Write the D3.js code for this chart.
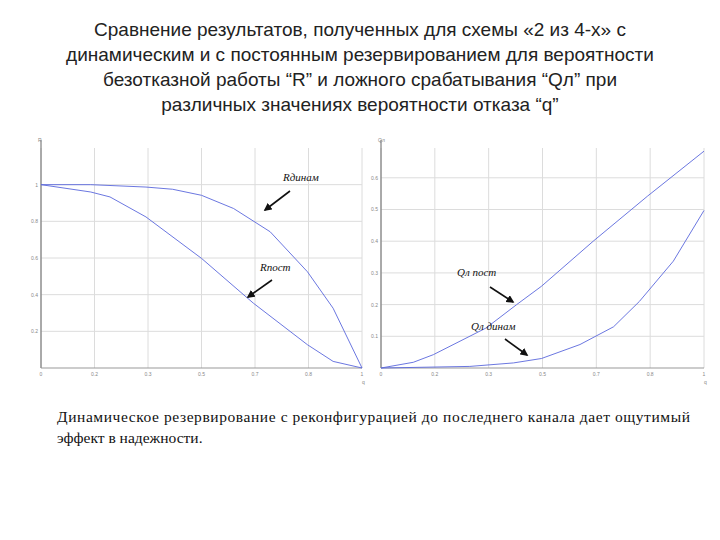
<!DOCTYPE html>
<html><head><meta charset="utf-8">
<script src="https://cdn.jsdelivr.net/npm/d3@7"></script>
<style>body{margin:0;background:#fff}</style>
</head><body>
<svg width="720" height="540"></svg>
<script>
// values
var rPost = [[0,1],[0.155,0.96],[0.215,0.933],[0.327,0.824],[0.5,0.598],[0.662,0.353],[0.83,0.127],[0.91,0.036],[1,0]];
var rDyn = [[0,1],[0.155,1],[0.327,0.987],[0.41,0.975],[0.5,0.942],[0.6,0.87],[0.714,0.743],[0.83,0.525],[0.91,0.326],[1,0]];
var qlPost = [[0,0],[0.1,0.018],[0.162,0.042],[0.325,0.126],[0.42,0.2],[0.497,0.258],[0.657,0.4],[0.825,0.542],[1,0.684]];
var qlDyn = [[0,0],[0.275,0.005],[0.41,0.016],[0.497,0.03],[0.616,0.074],[0.72,0.13],[0.8,0.21],[0.905,0.337],[1,0.497]];
var xTicks = [0, 1/6, 2/6, 3/6, 4/6, 5/6, 1];
var xTickLabels = ['0', '0.2', '0.3', '0.5', '0.7', '0.8', '1'];
var rTicks = [0.2, 0.4, 0.6, 0.8, 1];
var qTicks = [0.1, 0.2, 0.3, 0.4, 0.5, 0.6];
var titleLines = ['Сравнение результатов, полученных для схемы «2 из 4-х» с',
  'динамическим и с постоянным резервированием для вероятности',
  'безотказной работы “R” и ложного срабатывания “Qл” при',
  'различных значениях вероятности отказа “q”'];
var noteLines = ['Динамическое резервирование с реконфигурацией до последнего канала дает ощутимый',
  'эффект в надежности.'];

var svg = d3.select('svg');
var lineColor = '#5a68dc';
var gridColor = '#dcdcdc';

svg.selectAll('.title').data(titleLines).enter().append('text')
  .attr('x', 360).attr('y', function(d, i){ return 36 + i*25; })
  .attr('text-anchor', 'middle')
  .style('font-family', 'Arial, "Liberation Sans", sans-serif')
  .style('font-size', '19px').style('fill', '#222')
  .text(function(d){ return d; });

function panel(x0, x1, yMax, yTicks, series, yName, notes){
  var x = d3.scaleLinear().domain([0, 1]).range([x0, x1]);
  var y = d3.scaleLinear().domain([0, yMax]).range([368, 148]);
  var g = svg.append('g');
  g.selectAll('.vg').data(xTicks).enter().append('line')
    .attr('x1', function(d){ return x(d); }).attr('x2', function(d){ return x(d); })
    .attr('y1', 148).attr('y2', 368).attr('stroke', gridColor);
  g.selectAll('.hg').data(yTicks).enter().append('line')
    .attr('x1', x0).attr('x2', x1)
    .attr('y1', function(d){ return y(d); }).attr('y2', function(d){ return y(d); })
    .attr('stroke', gridColor);
  g.append('line').attr('x1', x0).attr('x2', x0).attr('y1', 140).attr('y2', 368).attr('stroke', '#666');
  g.append('line').attr('x1', x0).attr('x2', x1).attr('y1', 368).attr('y2', 368).attr('stroke', '#999');
  g.selectAll('.xl').data(xTicks).enter().append('text')
    .attr('x', function(d){ return x(d); }).attr('y', 376)
    .attr('text-anchor', 'middle').style('font-size', '5px').style('fill', '#888')
    .style('font-family', 'Arial')
    .text(function(d, i){ return xTickLabels[i]; });
  g.selectAll('.yl').data(yTicks).enter().append('text')
    .attr('x', x0 - 3).attr('y', function(d){ return y(d) + 2; })
    .attr('text-anchor', 'end').style('font-size', '5px').style('fill', '#888')
    .style('font-family', 'Arial')
    .text(function(d){ return d3.format('.1~f')(d); });
  g.append('text').attr('x', x0 - 3).attr('y', 142).style('font-size', '5px')
    .style('fill', '#888').style('font-family', 'Arial').text(yName);
  g.append('text').attr('x', x1).attr('y', 384).style('font-size', '5px')
    .style('fill', '#888').style('font-family', 'Arial').text('q');
  var line = d3.line().x(function(d){ return x(d[0]); }).y(function(d){ return y(d[1]); });
  series.forEach(function(s){
    g.append('path').attr('d', line(s)).attr('fill', 'none')
      .attr('stroke', lineColor).attr('stroke-width', 0.9);
  });
  notes.forEach(function(n){
    g.append('text').attr('x', n.tx).attr('y', n.ty)
      .style('font-family', '"Liberation Serif", "DejaVu Serif", serif')
      .style('font-style', 'italic').style('font-size', '11px').style('fill', '#111')
      .text(n.t);
    g.append('line').attr('x1', n.a[0]).attr('y1', n.a[1]).attr('x2', n.a[2]).attr('y2', n.a[3])
      .attr('stroke', '#111').attr('stroke-width', 1.6).attr('marker-end', 'url(#arr)');
  });
}

svg.append('defs').append('marker').attr('id', 'arr')
  .attr('viewBox', '0 0 10 10').attr('refX', 8).attr('refY', 5)
  .attr('markerWidth', 5).attr('markerHeight', 5).attr('orient', 'auto')
  .append('path').attr('d', 'M0,0 L10,5 L0,10 Z').attr('fill', '#111');

panel(41, 362, 1.2, rTicks, [rPost, rDyn], 'R', [
  {t: 'Rдинам', tx: 283, ty: 181, a: [290, 191, 265, 210]},
  {t: 'Rпост', tx: 260, ty: 271, a: [272, 280, 248, 297]}
]);
panel(381, 704, 0.694, qTicks, [qlPost, qlDyn], 'Qл', [
  {t: 'Qл пост', tx: 457, ty: 276, a: [490, 287, 513, 302]},
  {t: 'Qл динам', tx: 471, ty: 330, a: [505, 339, 527, 355]}
]);

svg.selectAll('.note').data(noteLines).enter().append('text')
  .attr('x', 57).attr('y', function(d, i){ return 422 + i*21; })
  .attr('textLength', function(d, i){ return i === 0 ? 633 : null; })
  .style('font-family', '"Liberation Serif", "DejaVu Serif", serif')
  .style('font-size', '15.5px').style('fill', '#111')
  .text(function(d){ return d; });
</script>
</body></html>
